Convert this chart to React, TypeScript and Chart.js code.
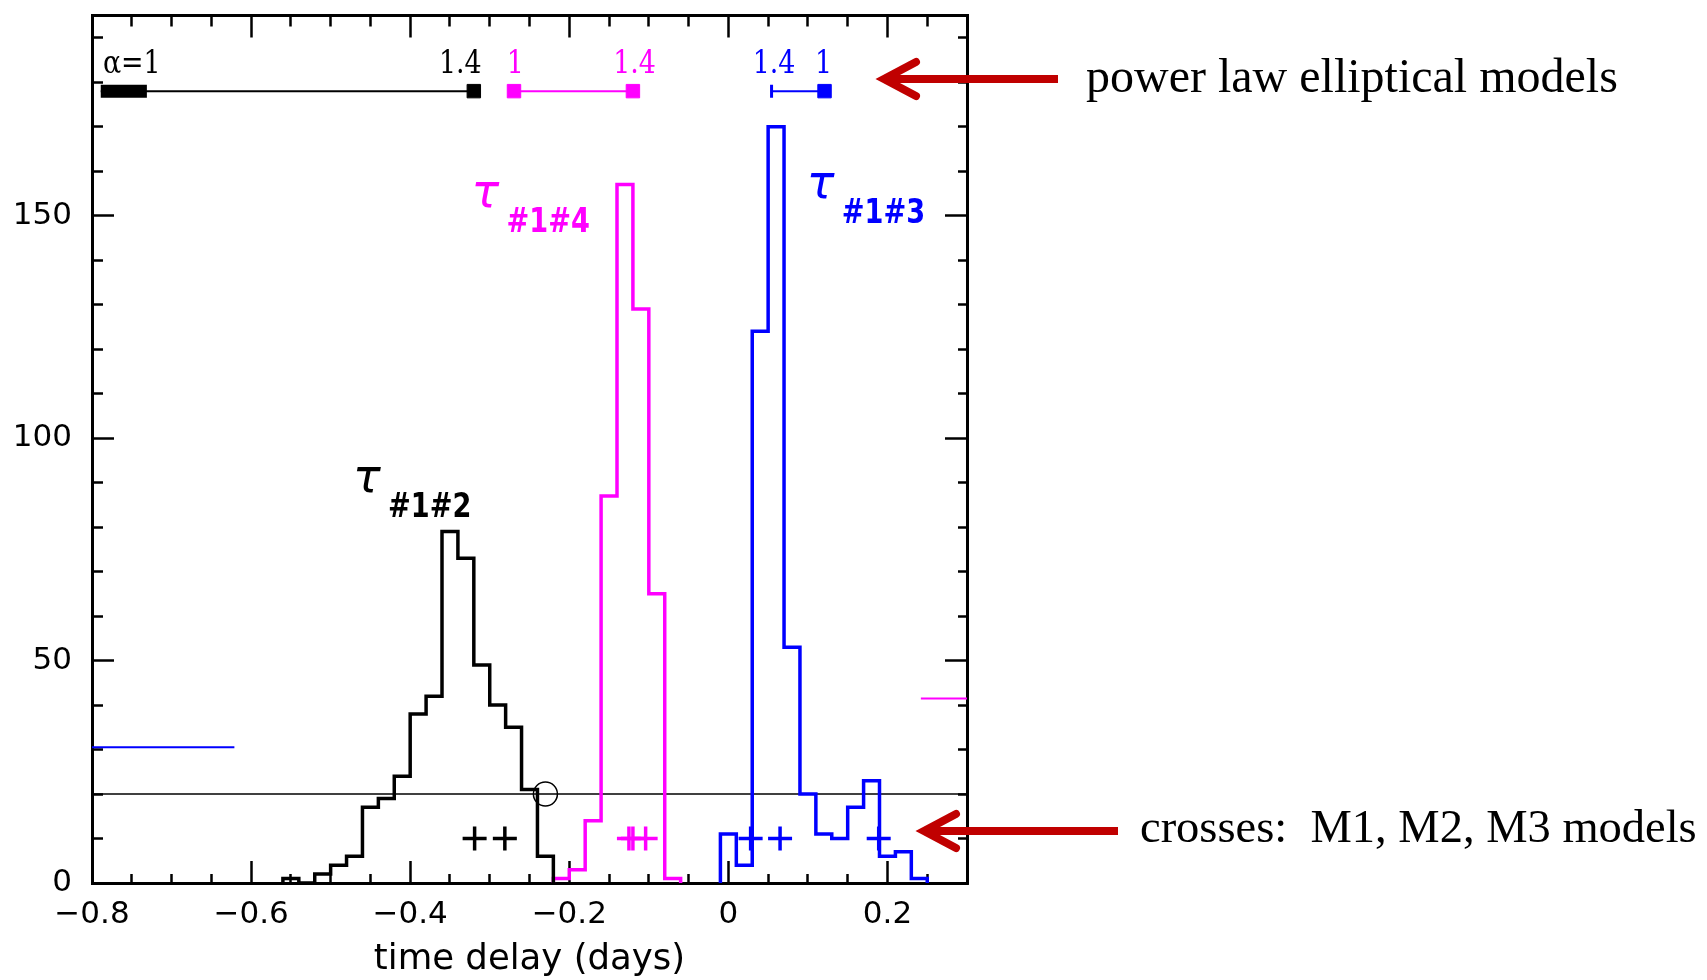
import React, { useEffect, useRef } from "react";
import { Chart, registerables } from "chart.js";

Chart.register(...registerables);

// ---------------- data ----------------
// histogram bin edges (days) and counts
const blackEdges = [-0.56, -0.54, -0.52, -0.5, -0.48, -0.46, -0.44, -0.42, -0.4, -0.38, -0.36, -0.34, -0.32, -0.3, -0.28, -0.26, -0.24, -0.22];
const blackCounts = [1, 0, 2, 4, 6, 17, 19, 24, 38, 42, 79, 73, 49, 40, 35, 21, 6];
const magentaEdges = [-0.22, -0.2, -0.18, -0.16, -0.14, -0.12, -0.1, -0.08, -0.06];
const magentaCounts = [1, 3, 14, 87, 157, 129, 65, 1];
const blueEdges = [-0.01, 0.01, 0.03, 0.05, 0.07, 0.09, 0.11, 0.13, 0.15, 0.17, 0.19, 0.21, 0.23, 0.25];
const blueCounts = [11, 4, 124, 170, 53, 20, 11, 10, 17, 23, 6, 7, 1];

// M1, M2, M3 model crosses
const crossY = 10;
const blackCrossX = [-0.319, -0.281];
const magentaCrossX = [-0.125, -0.12, -0.104];
const blueCrossX = [0.028, 0.065, 0.189];

// reference lines / markers
const xMin = -0.8;
const xMax = 0.3;
const yMin = 0;
const yMax = 195;
const thresholdY = 20;
const circleX = [-0.23];
const circleY = 20;
const blueObsX = [-0.8, -0.621];
const blueObsY = 30.5;
const magentaObsX = [0.242, 0.3];
const magentaObsY = 41.5;

// power law elliptical model ranges
const modelY = 178;
const blackModelX = [-0.789, -0.32];
const blackModelBlockX = [-0.789, -0.731];
const magentaModelX = [-0.2695, -0.12];
const blueModelX = [0.0543, 0.1209];

const labelY = 182;
const blackModelLabels = ["\u03b1=1", "1.4"];
const blackModelLabelX = [-0.75, -0.337];
const magentaModelLabels = ["1", "1.4"];
const magentaModelLabelX = [-0.268, -0.118];
const blueModelLabels = ["1.4", "1"];
const blueModelLabelX = [0.0574, 0.1196];

// tau labels
const tauSubs = ["#1#2", "#1#4", "#1#3"];
const tauX = [-0.472, -0.323, 0.0985];
const tauY = [88, 152, 154];

// axes
const xTickMajor = [-0.8, -0.6, -0.4, -0.2, 0, 0.2];
const yTickMajor = [0, 50, 100, 150];
const xTitle = "time delay (days)";
const noteTop = "power law elliptical models";
const noteBottom = "crosses:  M1, M2, M3 models";

// ---------------- helpers ----------------
const BLACK = "#000000";
const MAGENTA = "#ff00ff";
const BLUE = "#0000ff";
const RED = "#c00000";

const hist = (edges: number[], counts: number[]) => {
  const pts: { x: number; y: number }[] = [{ x: edges[0], y: 0 }];
  counts.forEach((c, i) => pts.push({ x: edges[i], y: c }));
  pts.push({ x: edges[edges.length - 1], y: 0 });
  return pts;
};
const isMajorX = (v: number) => xTickMajor.some((m) => Math.abs(m - v) < 1e-6);
const isMajorY = (v: number) => yTickMajor.some((m) => Math.abs(m - v) < 1e-6);
const fmtX = (v: number) => {
  if (Math.abs(v) < 1e-9) return "0";
  return (v < 0 ? "\u2212" : "") + Math.abs(v).toFixed(1);
};

const tickFont = { family: "'DejaVu Sans', sans-serif", size: 31 };

const axisBase = (axis: "x" | "y", inwardDashStartsAtBorder: boolean) => ({
  type: "linear" as const,
  min: axis === "x" ? xMin : yMin,
  max: axis === "x" ? xMax : yMax,
  bounds: "data" as const,
  border: { display: true, color: BLACK, width: 3 },
  grid: {
    display: true,
    drawOnChartArea: false,
    drawTicks: true,
    tickLength: -22,
    tickWidth: 2.5,
    tickColor: BLACK,
    tickBorderDash: (ctx: any) => {
      const v = ctx.tick ? ctx.tick.value : 0;
      const major = axis === "x" ? isMajorX(v) : isMajorY(v);
      if (major) return [];
      return inwardDashStartsAtBorder ? [11, 100] : [0, 11, 100];
    },
  },
});

const noPad = (s: any) => {
  s.paddingTop = 0;
  s.paddingBottom = 0;
  s.paddingLeft = 0;
  s.paddingRight = 0;
};

const annotate = {
  id: "annotate",
  afterDraw(chart: any) {
    const { ctx, scales } = chart;
    const xs = scales.x;
    const ys = scales.y;
    ctx.save();

    // model labels
    ctx.textAlign = "center";
    ctx.textBaseline = "alphabetic";
    const drawLabels = (texts: string[], xv: number[], color: string) => {
      ctx.fillStyle = color;
      texts.forEach((t, i) => {
        ctx.save();
        ctx.translate(xs.getPixelForValue(xv[i]), ys.getPixelForValue(labelY));
        ctx.scale(0.84, 1);
        ctx.font = '32px "DejaVu Serif", serif';
        ctx.fillText(t, 0, 0);
        ctx.restore();
      });
    };
    drawLabels(blackModelLabels, blackModelLabelX, BLACK);
    drawLabels(magentaModelLabels, magentaModelLabelX, MAGENTA);
    drawLabels(blueModelLabels, blueModelLabelX, BLUE);

    // tau labels
    const tauColors = [BLACK, MAGENTA, BLUE];
    tauSubs.forEach((s, i) => {
      const px = xs.getPixelForValue(tauX[i]);
      const py = ys.getPixelForValue(tauY[i]);
      ctx.fillStyle = tauColors[i];
      ctx.textAlign = "left";
      ctx.font = 'italic 46px "DejaVu Sans", sans-serif';
      ctx.fillText("\u03c4", px, py);
      ctx.save();
      ctx.translate(px + 35, py + 25);
      ctx.scale(0.8, 1);
      ctx.font = 'bold 34px "DejaVu Sans", sans-serif';
      ctx.fillText(s, 0, 0);
      ctx.restore();
    });

    // red arrows
    const arrow = (tipX: number, tailX: number, yy: number) => {
      ctx.strokeStyle = RED;
      ctx.lineWidth = 8;
      ctx.lineCap = "butt";
      ctx.beginPath();
      ctx.moveTo(tailX, yy);
      ctx.lineTo(tipX + 4, yy);
      ctx.stroke();
      ctx.lineCap = "round";
      ctx.lineJoin = "miter";
      ctx.beginPath();
      ctx.moveTo(tipX + 32, yy - 17);
      ctx.lineTo(tipX, yy);
      ctx.lineTo(tipX + 32, yy + 17);
      ctx.stroke();
    };
    arrow(884, 1058, 79);
    arrow(924, 1118, 831);

    // notes
    ctx.fillStyle = BLACK;
    ctx.textAlign = "left";
    ctx.font = '48px "Liberation Serif", serif';
    ctx.fillText(noteTop, 1086, 92);
    ctx.font = '46.5px "Liberation Serif", serif';
    ctx.fillText(noteBottom, 1140, 842);

    ctx.restore();
  },
};

export default function App() {
  const ref = useRef<HTMLCanvasElement | null>(null);

  useEffect(() => {
    if (!ref.current) return;
    const pts = (xv: number[], yv: number) => xv.map((x) => ({ x, y: yv }));
    const chart = new Chart(ref.current, {
      type: "line",
      data: {
        datasets: [
          { label: "t12", data: hist(blackEdges, blackCounts), borderColor: BLACK, borderWidth: 3.5, stepped: true, pointRadius: 0, fill: false },
          { label: "t14", data: hist(magentaEdges, magentaCounts), borderColor: MAGENTA, borderWidth: 3.5, stepped: true, pointRadius: 0, fill: false },
          { label: "t13", data: hist(blueEdges, blueCounts), borderColor: BLUE, borderWidth: 3.5, stepped: true, pointRadius: 0, fill: false },
          { label: "c12", data: pts(blackCrossX, crossY), showLine: false, pointStyle: "cross", pointRadius: 12, borderWidth: 3.5, borderColor: BLACK, pointBorderColor: BLACK },
          { label: "c14", data: pts(magentaCrossX, crossY), showLine: false, pointStyle: "cross", pointRadius: 12, borderWidth: 3.5, borderColor: MAGENTA, pointBorderColor: MAGENTA },
          { label: "c13", data: pts(blueCrossX, crossY), showLine: false, pointStyle: "cross", pointRadius: 12, borderWidth: 3.5, borderColor: BLUE, pointBorderColor: BLUE },
          { label: "circ", data: pts(circleX, circleY), showLine: false, pointStyle: "circle", pointRadius: 12, borderWidth: 1.5, borderColor: BLACK, pointBorderColor: BLACK, pointBackgroundColor: "rgba(0,0,0,0)", backgroundColor: "rgba(0,0,0,0)" },
          { label: "thr", data: pts([xMin, xMax], thresholdY), borderColor: BLACK, borderWidth: 1.5, pointRadius: 0 },
          { label: "bobs", data: pts(blueObsX, blueObsY), borderColor: BLUE, borderWidth: 2, pointRadius: 0 },
          { label: "mobs", data: pts(magentaObsX, magentaObsY), borderColor: MAGENTA, borderWidth: 2, pointRadius: 0 },
          { label: "bm", data: pts(blackModelX, modelY), borderColor: BLACK, borderWidth: 2, pointStyle: "rect", pointRadius: [0, 9.5], pointBackgroundColor: BLACK, pointBorderColor: BLACK, pointBorderWidth: 1 },
          { label: "bmb", data: pts(blackModelBlockX, modelY), borderColor: BLACK, borderWidth: 13, borderCapStyle: "butt", pointRadius: 0 },
          { label: "mm", data: pts(magentaModelX, modelY), borderColor: MAGENTA, borderWidth: 2, pointStyle: "rect", pointRadius: 9.5, pointBackgroundColor: MAGENTA, pointBorderColor: MAGENTA, pointBorderWidth: 1 },
          { label: "blm", data: pts(blueModelX, modelY), borderColor: BLUE, borderWidth: 2, pointStyle: ["line", "rect"], pointRotation: [90, 0], pointRadius: [6.5, 9.5], pointBackgroundColor: BLUE, pointBorderColor: BLUE, pointBorderWidth: [3, 1] },
        ] as any,
      },
      options: {
        responsive: false,
        animation: false,
        devicePixelRatio: 1,
        events: [],
        layout: { padding: { left: 0, top: 9, right: 1707 - 967, bottom: 0 } },
        plugins: { legend: { display: false }, tooltip: { enabled: false }, title: { display: false } },
        scales: {
          x: {
            ...axisBase("x", true),
            position: "bottom",
            afterFit: (s: any) => { s.height = 97; noPad(s); },
            ticks: {
              stepSize: 0.05,
              autoSkip: false,
              maxRotation: 0,
              minRotation: 0,
              includeBounds: false,
              padding: 35,
              color: BLACK,
              font: tickFont,
              callback: (v: any) => (isMajorX(Number(v)) ? fmtX(Number(v)) : ""),
            },
            title: { display: true, text: xTitle, color: BLACK, font: { family: "'DejaVu Sans', sans-serif", size: 35.5, lineHeight: 1.15 }, padding: { top: 0, bottom: 0 } },
          },
          x2: {
            ...axisBase("x", false),
            position: "top",
            afterFit: (s: any) => { s.height = 0; noPad(s); },
            ticks: { stepSize: 0.05, autoSkip: false, includeBounds: false, display: false },
          },
          y: {
            ...axisBase("y", false),
            position: "left",
            afterFit: (s: any) => { s.width = 92; noPad(s); },
            ticks: {
              stepSize: 10,
              autoSkip: false,
              includeBounds: false,
              padding: 42,
              color: BLACK,
              font: tickFont,
              callback: (v: any) => (isMajorY(Number(v)) ? String(v) : ""),
            },
          },
          y2: {
            ...axisBase("y", true),
            position: "right",
            afterFit: (s: any) => { s.width = 0; noPad(s); },
            ticks: { stepSize: 10, autoSkip: false, includeBounds: false, display: false },
          },
        } as any,
      },
      plugins: [annotate],
    });
    return () => chart.destroy();
  }, []);

  return (
    <div style={{ position: "fixed", left: 0, top: 0, width: 1707, height: 980, background: "#ffffff", overflow: "hidden" }}>
      <canvas ref={ref} width={1707} height={980} style={{ width: 1707, height: 980, display: "block" }} />
    </div>
  );
}
